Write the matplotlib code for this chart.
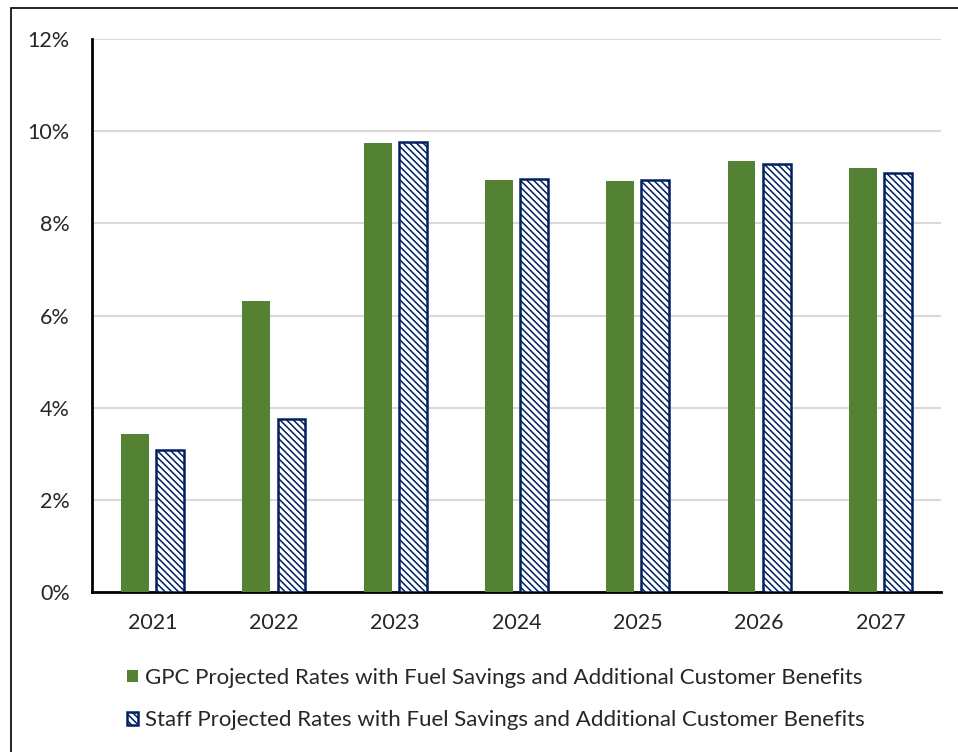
import matplotlib.pyplot as plt
import numpy as np
from matplotlib.ticker import PercentFormatter
from matplotlib.patches import Rectangle

plt.rcParams['font.family'] = ['Lato', 'DejaVu Sans']
plt.rcParams['hatch.linewidth'] = 1.1

years = ['2021', '2022', '2023', '2024', '2025', '2026', '2027']
gpc_rates = [3.43, 6.31, 9.74, 8.94, 8.92, 9.35, 9.20]
staff_rates = [3.08, 3.75, 9.77, 8.96, 8.94, 9.29, 9.09]
yticks = [0, 2, 4, 6, 8, 10, 12]

green = '#548235'
navy = '#002060'

fig = plt.figure(figsize=(9.58, 7.52), dpi=100)
ax = fig.add_axes([92 / 958, 1 - 592 / 752, (941 - 92) / 958, (592 - 39) / 752])

x = np.arange(len(years))
w = 0.23
ax.bar(x - 0.145, gpc_rates, w, color=green, zorder=3,
       label='GPC Projected Rates with Fuel Savings and Additional Customer Benefits')
ax.bar(x + 0.145, staff_rates, w, facecolor='white', edgecolor=navy, hatch='\\\\\\\\\\',
       linewidth=1.8, zorder=3,
       label='Staff Projected Rates with Fuel Savings and Additional Customer Benefits')

ax.set_xlim(-0.5, len(years) - 0.5)
ax.set_ylim(0, 12)
ax.set_yticks(yticks)
ax.yaxis.set_major_formatter(PercentFormatter(decimals=0))
ax.set_xticks(x)
ax.set_xticklabels(years)
ax.grid(axis='y', color='#d9d9d9', linewidth=1.5, zorder=0)
ax.tick_params(length=0, labelsize=15.5, colors='#262626')
ax.tick_params(axis='x', pad=15)
ax.tick_params(axis='y', pad=16)
for s in ['top', 'right']:
    ax.spines[s].set_visible(False)
ax.spines['left'].set_linewidth(2)
ax.spines['bottom'].set_linewidth(2)

fig.legend(loc='upper left', bbox_to_anchor=(118 / 958, 1 - 659 / 752), frameon=False,
           fontsize=16, handlelength=0.5, handleheight=0.5, handletextpad=0.3,
           labelspacing=1.0, labelcolor='#262626', borderaxespad=0)

# outer chart border
fig.patches.append(Rectangle((11 / 958, -0.01), 1.0, 1 - 8 / 752 + 0.01, transform=fig.transFigure,
                             fill=False, edgecolor='black', linewidth=1.2))

fig.savefig('out.png', dpi=100)
